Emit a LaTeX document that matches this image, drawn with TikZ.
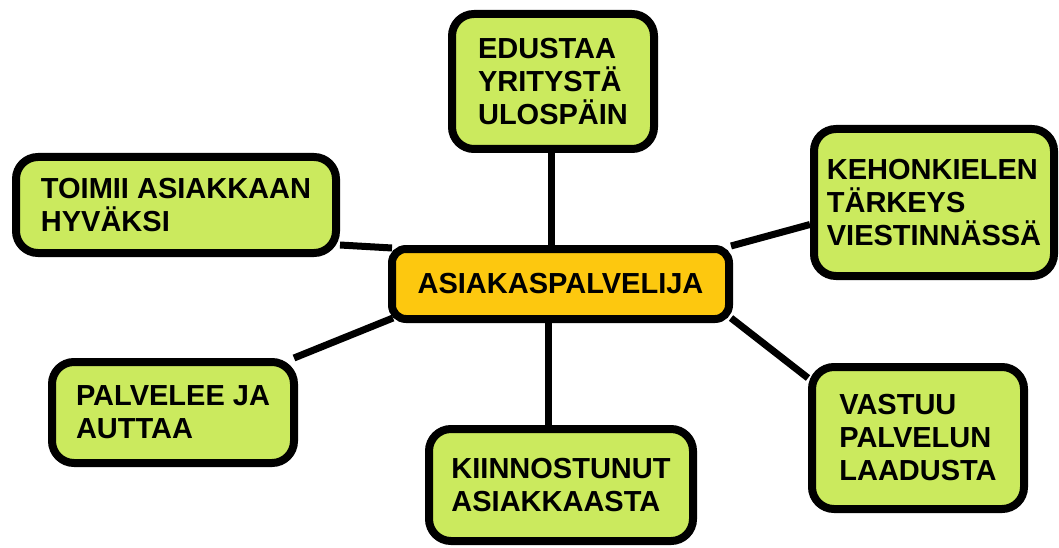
\documentclass[tikz,border=0pt]{standalone}
\usepackage{fontspec}
\setmainfont{Liberation Sans}
\usetikzlibrary{backgrounds}
\definecolor{leaf}{HTML}{CBEA5E}
\definecolor{amber}{HTML}{FDC80F}
\begin{document}
\begin{tikzpicture}[x=1pt,y=1pt,
  topic/.style={draw=black, line width=8pt, fill=leaf, rounded corners=22pt,
    align=left, inner sep=0pt,
    font=\fontsize{29}{33}\selectfont\bfseries},
  hub/.style={draw=black, line width=8pt, fill=amber, rounded corners=14pt,
    inner sep=0pt, minimum width=337pt, minimum height=70pt,
    font=\fontsize{29}{33}\selectfont\bfseries},
  link/.style={line width=7pt, black}]
\useasboundingbox (0,0) rectangle (1059,-548);

\node[hub] (center) at (560.5,-284) {ASIAKASPALVELIJA};

\node[topic, minimum width=202pt, minimum height=135pt] (top) at (553,-81.5)
  {EDUSTAA\\YRITYSTÄ\\ULOSPÄIN};
\node[topic, minimum width=320pt, minimum height=96pt] (tl) at (176,-205)
  {TOIMII ASIAKKAAN\\HYVÄKSI};
\node[topic, minimum width=240pt, minimum height=147pt] (rt) at (934,-202.5)
  {KEHONKIELEN\\TÄRKEYS\\VIESTINNÄSSÄ};
\node[topic, minimum width=242pt, minimum height=101pt] (bl) at (173,-412.5)
  {PALVELEE JA\\AUTTAA};
\node[topic, minimum width=264pt, minimum height=112pt] (bc) at (561,-485)
  {KIINNOSTUNUT\\ASIAKKAASTA};
\node[topic, minimum width=212pt, minimum height=142pt] (br) at (918,-438)
  {VASTUU\\PALVELUN\\LAADUSTA};

\begin{scope}[on background layer]
  \draw[link] ([xshift=-2pt]top.south) -- ([xshift=-2pt]top.south |- center.north);
  \draw[link] ([xshift=-12pt]center.south) -- ([xshift=-12pt]center.south |- bc.north);
  \draw[link] ([yshift=12pt]tl.south east) -- ([xshift=4pt,yshift=-3pt]center.north west);
  \draw[link] ([xshift=-2pt,yshift=-1pt]center.north east) -- ([yshift=-22pt]rt.west);
  \draw[link] ([xshift=-4pt]bl.north east) -- ([xshift=5pt,yshift=5pt]center.south west);
  \draw[link] ([xshift=-2pt,yshift=5pt]center.south east) -- ([yshift=-15pt]br.north west);
\end{scope}
\end{tikzpicture}
\end{document}
